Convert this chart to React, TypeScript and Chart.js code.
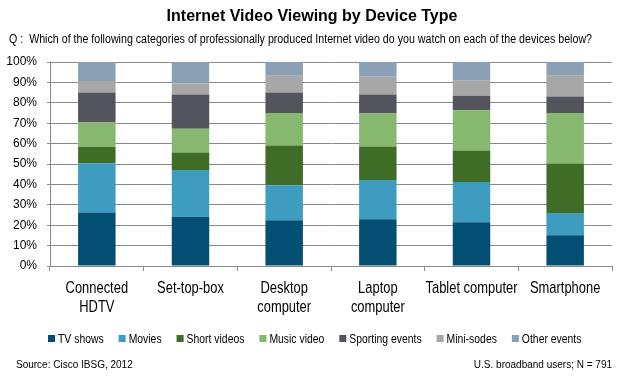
import React, { useEffect, useRef } from "react";
import { Chart, registerables } from "chart.js";
Chart.register(...registerables);

const titleText = "Internet Video Viewing by Device Type";
const questionText = "Q :  Which of the following categories of professionally produced Internet video do you watch on each of the devices below?";
const sourceText = "Source: Cisco IBSG, 2012";
const sampleText = "U.S. broadband users; N = 791";

const categories: string[][] = [
  ["Connected", "HDTV"],
  ["Set-top-box"],
  ["Desktop", "computer"],
  ["Laptop", "computer"],
  ["Tablet computer"],
  ["Smartphone"],
];
const seriesNames = ["TV shows", "Movies", "Short videos", "Music video", "Sporting events", "Mini-sodes", "Other events"];
const seriesColors = ["#034f73", "#3d9cc0", "#3f6c27", "#87b870", "#54555c", "#a7a7a7", "#8ba0b4"];

const tvShows = [26.2, 24.2, 22.4, 22.9, 21.4, 15.1];
const movies = [24.2, 22.8, 17.2, 19.2, 19.8, 10.9];
const shortVideos = [8.0, 8.6, 19.5, 16.5, 15.4, 24.2];
const musicVideo = [12.0, 11.7, 15.9, 16.2, 19.8, 24.8];
const sportingEvents = [14.7, 16.8, 10.1, 9.3, 7.1, 8.1];
const miniSodes = [5.6, 5.4, 8.2, 8.7, 7.3, 10.2];
const otherEvents = [9.3, 10.5, 6.7, 7.2, 9.2, 6.7];

const seriesValues = [tvShows, movies, shortVideos, musicVideo, sportingEvents, miniSodes, otherEvents];

const SANS = '"Liberation Sans", Arial, sans-serif';
const GRID = "#8a8a8a";
const CONDENSE = 0.76;

function drawScaled(ctx: CanvasRenderingContext2D, text: string, x: number, y: number, sx: number, align: CanvasTextAlign) {
  ctx.save();
  ctx.translate(x, y);
  ctx.scale(sx, 1);
  ctx.textAlign = align;
  ctx.fillText(text, 0, 0);
  ctx.restore();
}

const textPlugin = {
  id: "customTexts",
  afterDraw(chart: any) {
    const ctx = chart.ctx as CanvasRenderingContext2D;
    ctx.save();
    ctx.fillStyle = "#000";
    ctx.textBaseline = "middle";

    ctx.textAlign = "center";
    ctx.font = `bold 16px ${SANS}`;
    ctx.fillText(titleText, 312, 17);

    ctx.font = `12px ${SANS}`;
    const qw = ctx.measureText(questionText).width;
    drawScaled(ctx, questionText, 9, 40, 583 / qw, "left");

    // x category labels
    ctx.font = `17px ${SANS}`;
    const xScale = chart.scales.x;
    categories.forEach((lines, i) => {
      const cx = xScale.getPixelForValue(i);
      lines.forEach((line, j) => {
        drawScaled(ctx, line, cx, 288 + j * 19, CONDENSE, "center");
      });
    });

    // legend
    ctx.font = `13px ${SANS}`;
    let x = 48;
    const y = 339;
    chart.data.datasets.forEach((ds: any) => {
      ctx.fillStyle = ds.backgroundColor;
      ctx.fillRect(x, y - 4, 7, 7);
      x += 10;
      ctx.fillStyle = "#000";
      drawScaled(ctx, ds.label, x, y, 0.8, "left");
      x += ctx.measureText(ds.label).width * 0.8 + 15;
    });

    ctx.font = `10px ${SANS}`;
    ctx.textAlign = "left";
    ctx.fillText(sourceText, 16, 365);
    ctx.textAlign = "right";
    ctx.fillText(sampleText, 612, 365);
    ctx.restore();
  },
};

export default function App() {
  const ref = useRef<HTMLCanvasElement | null>(null);
  useEffect(() => {
    if (!ref.current) return;
    const chart = new Chart(ref.current, {
      type: "bar",
      data: {
        labels: categories.map((l) => l.join(" ")),
        datasets: seriesNames.map((name, i) => ({
          label: name,
          data: seriesValues[i],
          backgroundColor: seriesColors[i],
          borderWidth: 0,
          barPercentage: 0.4,
          categoryPercentage: 1,
        })),
      },
      options: {
        responsive: false,
        animation: false,
        devicePixelRatio: 1,
        layout: { padding: { top: 62, left: 6, right: 12, bottom: 106 } },
        plugins: {
          legend: { display: false },
          title: { display: false },
          tooltip: { enabled: false },
        },
        scales: {
          x: {
            stacked: true,
            grid: { display: true, drawOnChartArea: false, drawTicks: true, tickLength: 5, color: GRID, offset: true },
            border: { display: true, color: GRID },
            ticks: { display: false },
          },
          y: {
            stacked: true,
            min: 0,
            max: 100,
            afterFit: (scale: any) => {
              scale.width = 44;
            },
            grid: { color: GRID, tickLength: 3 },
            border: { display: true, color: GRID },
            ticks: {
              stepSize: 10,
              color: "#000",
              font: { family: SANS, size: 12 },
              padding: 10,
              callback: (v: any) => `${v}%`,
            },
          },
        },
      },
      plugins: [textPlugin],
    });
    return () => chart.destroy();
  }, []);
  return (
    <div style={{ position: "absolute", left: 0, top: 0, width: 624, height: 377, background: "#fff" }}>
      <canvas ref={ref} width={624} height={377} />
    </div>
  );
}
